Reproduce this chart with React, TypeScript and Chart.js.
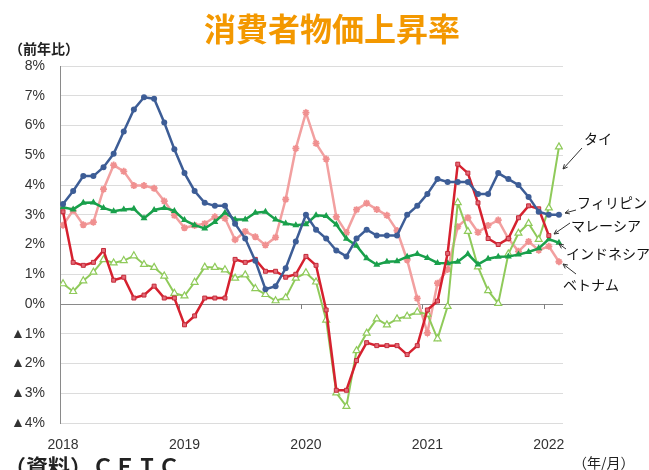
import React, { useEffect, useRef } from 'react';
import { Chart, registerables } from 'chart.js';

Chart.register(...registerables);

// ---- data ----
const months = [
  '2018/01','2018/02','2018/03','2018/04','2018/05','2018/06','2018/07','2018/08','2018/09','2018/10','2018/11','2018/12',
  '2019/01','2019/02','2019/03','2019/04','2019/05','2019/06','2019/07','2019/08','2019/09','2019/10','2019/11','2019/12',
  '2020/01','2020/02','2020/03','2020/04','2020/05','2020/06','2020/07','2020/08','2020/09','2020/10','2020/11','2020/12',
  '2021/01','2021/02','2021/03','2021/04','2021/05','2021/06','2021/07','2021/08','2021/09','2021/10','2021/11','2021/12',
  '2022/01','2022/02',
];
const yearLabels = ['2018', '2019', '2020', '2021', '2022'];
const yearTickIndex = [0, 12, 24, 36, 48];

const philippines = [
  3.36, 3.8, 4.3, 4.3, 4.6, 5.05, 5.8, 6.54, 6.95, 6.9, 6.1, 5.2,
  4.4, 3.8, 3.4, 3.3, 3.3, 2.7, 2.2, 1.45, 0.5, 0.6, 1.2, 2.1,
  3.0, 2.5, 2.2, 1.8, 1.6, 2.2, 2.5, 2.3, 2.3, 2.3, 3.0, 3.3,
  3.7, 4.2, 4.1, 4.1, 4.1, 3.7, 3.7, 4.4, 4.2, 4.0, 3.6, 3.1,
  3.0, 3.0,
];
const malaysia = [
  3.1, 1.4, 1.3, 1.4, 1.8, 0.8, 0.9, 0.2, 0.3, 0.6, 0.2, 0.2,
  -0.7, -0.4, 0.2, 0.2, 0.2, 1.5, 1.4, 1.5, 1.1, 1.1, 0.9, 1.0,
  1.6, 1.3, -0.2, -2.9, -2.9, -1.9, -1.3, -1.4, -1.4, -1.4, -1.7, -1.4,
  -0.2, 0.1, 1.7, 4.7, 4.4, 3.4, 2.2, 2.0, 2.2, 2.9, 3.3, 3.2,
  2.3,
];
const indonesia = [
  3.25, 3.18, 3.40, 3.41, 3.23, 3.12, 3.18, 3.20, 2.88, 3.16, 3.23, 3.13,
  2.82, 2.65, 2.54, 2.76, 3.07, 2.84, 2.84, 3.07, 3.10, 2.84, 2.71, 2.65,
  2.68, 2.98, 2.96, 2.67, 2.19, 1.96, 1.54, 1.32, 1.42, 1.44, 1.59, 1.68,
  1.55, 1.38, 1.37, 1.42, 1.68, 1.33, 1.52, 1.59, 1.60, 1.66, 1.75, 1.87,
  2.18, 2.06,
];
const thailand = [
  0.68, 0.42, 0.78, 1.07, 1.49, 1.38, 1.46, 1.62, 1.33, 1.23, 0.94, 0.36,
  0.27, 0.73, 1.24, 1.23, 1.15, 0.87, 0.98, 0.52, 0.32, 0.11, 0.21, 0.87,
  1.05, 0.74, -0.54, -2.99, -3.44, -1.57, -0.98, -0.50, -0.70, -0.50, -0.41, -0.27,
  -0.34, -1.17, -0.08, 3.41, 2.44, 1.25, 0.45, 0.02, 1.68, 2.38, 2.71, 2.17,
  3.23, 5.28,
];
const vietnam = [
  2.65, 3.15, 2.66, 2.75, 3.86, 4.67, 4.46, 3.98, 3.98, 3.89, 3.46, 2.98,
  2.56, 2.64, 2.70, 2.93, 2.88, 2.16, 2.44, 2.26, 1.98, 2.24, 3.52, 5.23,
  6.43, 5.40, 4.87, 2.93, 2.40, 3.17, 3.39, 3.18, 2.98, 2.47, 1.48, 0.19,
  -0.97, 0.70, 1.16, 2.60, 2.90, 2.41, 2.64, 2.82, 2.20, 1.77, 2.10, 1.81,
  1.94, 1.42,
];

const titleText = '消費者物価上昇率';
const unitText = '（前年比）';
const xUnitText = '（年/月）';
const sourceText = '（資料）ＣＥＩＣ';

const JP = '"Noto Sans CJK JP", "Noto Sans", sans-serif';
const NUM = '"Liberation Sans", Arial, sans-serif';

const toPoints = (arr: number[]) => arr.map((v, i) => ({ x: i, y: v, m: months[i] }));

function drawArrow(ctx: CanvasRenderingContext2D, x1: number, y1: number, x2: number, y2: number) {
  const ang = Math.atan2(y2 - y1, x2 - x1);
  const h = 5;
  ctx.beginPath();
  ctx.moveTo(x1, y1);
  ctx.lineTo(x2, y2);
  ctx.moveTo(x2, y2);
  ctx.lineTo(x2 - h * Math.cos(ang - 0.45), y2 - h * Math.sin(ang - 0.45));
  ctx.moveTo(x2, y2);
  ctx.lineTo(x2 - h * Math.cos(ang + 0.45), y2 - h * Math.sin(ang + 0.45));
  ctx.stroke();
}

const decorPlugin = {
  id: 'decor',
  beforeDatasetsDraw(chart: any) {
    const { ctx, scales } = chart;
    const x = scales.x;
    const y = scales.y;
    const py = Math.round(y.getPixelForValue(0));
    ctx.save();
    ctx.strokeStyle = '#808080';
    ctx.lineWidth = 1;
    [11.5, 23.5, 35.5, 47.5].forEach((v) => {
      const px = Math.round(x.getPixelForValue(v)) + 0.5;
      ctx.beginPath();
      ctx.moveTo(px, py);
      ctx.lineTo(px, py + 5);
      ctx.stroke();
    });
    ctx.restore();
  },
  afterDraw(chart: any) {
    const ctx: CanvasRenderingContext2D = chart.ctx;
    ctx.save();
    // title
    ctx.font = `bold 32px ${JP}`;
    ctx.fillStyle = '#f39800';
    ctx.textAlign = 'center';
    ctx.textBaseline = 'middle';
    ctx.fillText(titleText, 332, 29);

    // unit label
    ctx.font = `bold 14px ${JP}`;
    ctx.fillStyle = '#222';
    ctx.textAlign = 'left';
    ctx.fillText(unitText, 9, 49);

    // x unit
    ctx.font = `14px ${JP}`;
    ctx.fillText(xUnitText, 573, 463);

    // source (cut at bottom)
    ctx.font = `bold 22px ${JP}`;
    ctx.textBaseline = 'top';
    ctx.fillText(sourceText, 4, 456);

    // series labels
    ctx.textBaseline = 'middle';
    ctx.font = `14px ${JP}`;
    ctx.fillStyle = '#111';
    ctx.fillText('タイ', 584, 139);
    ctx.fillText('フィリピン', 577, 203);
    ctx.fillText('マレーシア', 571, 226);
    ctx.fillText('インドネシア', 566, 254);
    ctx.fillText('ベトナム', 563, 285);

    ctx.strokeStyle = '#333';
    ctx.lineWidth = 1;
    drawArrow(ctx, 582, 148, 563, 169);
    drawArrow(ctx, 576, 210, 565, 213);
    drawArrow(ctx, 570, 223, 554, 234);
    drawArrow(ctx, 566, 249, 559, 244);
    drawArrow(ctx, 576, 274, 563, 264);
    ctx.restore();
  },
};

export default function App() {
  const ref = useRef<HTMLCanvasElement | null>(null);

  useEffect(() => {
    if (!ref.current) return;
    const chart = new Chart(ref.current, {
      type: 'line',
      data: {
        datasets: [
          {
            label: 'フィリピン',
            data: toPoints(philippines),
            borderColor: '#3d5d96',
            backgroundColor: '#3d5d96',
            borderWidth: 2.5,
            pointStyle: 'circle',
            pointRadius: 3,
            pointBorderWidth: 0,
          },
          {
            label: 'マレーシア',
            data: toPoints(malaysia),
            borderColor: '#d6212f',
            backgroundColor: '#e46a78',
            pointBorderColor: '#c42a38',
            borderWidth: 2.5,
            pointStyle: 'rect',
            pointRadius: 2.8,
            pointBorderWidth: 1,
          },
          {
            label: 'インドネシア',
            data: toPoints(indonesia),
            borderColor: '#19a04b',
            backgroundColor: '#19a04b',
            borderWidth: 2.5,
            pointStyle: 'triangle',
            pointRadius: 4,
            pointBorderWidth: 0,
          },
          {
            label: 'タイ',
            data: toPoints(thailand),
            borderColor: '#8fca5a',
            backgroundColor: '#ffffff',
            pointBorderColor: '#8fca5a',
            borderWidth: 2,
            pointStyle: 'triangle',
            pointRadius: 4,
            pointBorderWidth: 1.2,
          },
          {
            label: 'ベトナム',
            data: toPoints(vietnam),
            borderColor: '#f2a0a0',
            backgroundColor: '#f2a0a0',
            pointBorderColor: '#f09090',
            borderWidth: 2.5,
            pointStyle: 'star',
            pointRadius: 3.5,
            pointBorderWidth: 1.8,
          },
        ],
      },
      options: {
        animation: false,
        responsive: true,
        maintainAspectRatio: false,
        layout: { padding: { top: 66, right: 86, left: 0, bottom: 0 } },
        plugins: {
          legend: { display: false },
          tooltip: { enabled: false },
          title: { display: false },
        },
        elements: { line: { tension: 0 } },
        scales: {
          x: {
            type: 'linear',
            min: -0.3,
            max: 49.4,
            grid: { display: false, drawTicks: false },
            border: { display: false },
            afterBuildTicks: (scale: any) => {
              scale.ticks = yearTickIndex.map((v) => ({ value: v }));
            },
            afterFit: (scale: any) => {
              scale.height = 47;
            },
            ticks: {
              autoSkip: false,
              maxRotation: 0,
              padding: 14,
              color: '#333',
              font: { family: NUM, size: 14 },
              callback: (v: any) => {
                const idx = yearTickIndex.indexOf(Number(v));
                return idx >= 0 ? yearLabels[idx] : '';
              },
            },
          },
          y: {
            min: -4,
            max: 8,
            grid: {
              drawTicks: false,
              color: (c: any) => (c.tick && c.tick.value === 0 ? '#8a8a8a' : '#dcdcdc'),
              lineWidth: 1,
            },
            border: { display: true, color: '#8a8a8a', width: 1 },
            afterFit: (scale: any) => {
              scale.width = 60;
            },
            ticks: {
              stepSize: 1,
              padding: 15,
              color: '#333',
              font: { family: NUM, size: 14 },
              callback: (v: any) => {
                const n = Number(v);
                return n < 0 ? `▲${Math.abs(n)}%` : `${n}%`;
              },
            },
          },
        },
      },
      plugins: [decorPlugin],
    } as any);
    return () => chart.destroy();
  }, []);

  return (
    <div style={{ position: 'fixed', left: 0, top: 0, width: 649, height: 470, background: '#fff' }}>
      <canvas ref={ref} />
    </div>
  );
}
